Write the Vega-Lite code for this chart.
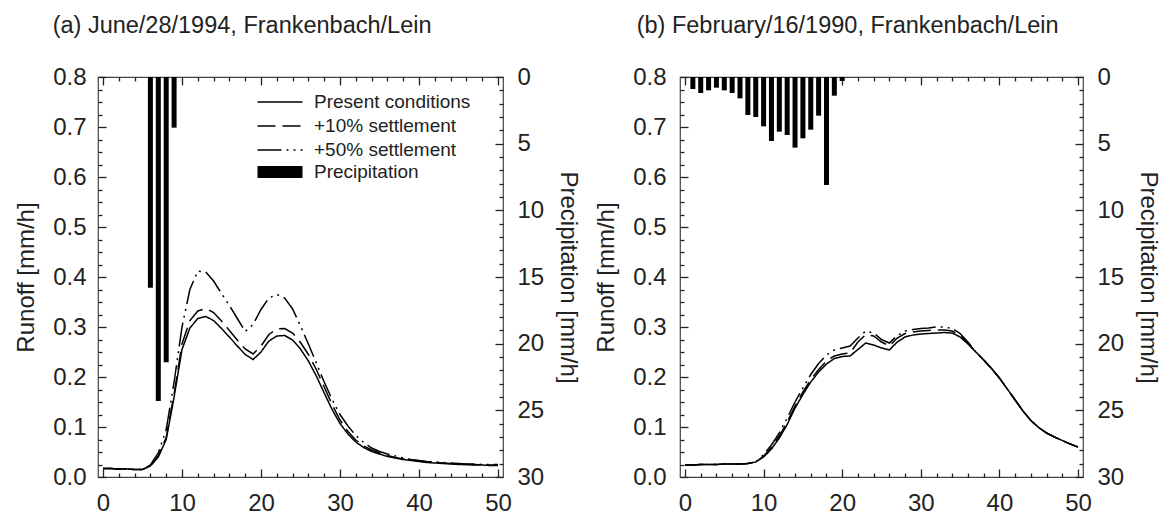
{
  "$schema": "https://vega.github.io/schema/vega-lite/v6.json",
  "background": "white",
  "padding": {"left": 14, "top": 12, "right": 4, "bottom": 5},
  "spacing": 13,
  "config": {
    "view": {"stroke": "#444", "strokeWidth": 1.2},
    "font": "Liberation Sans",
    "axis": {"labelFont": "Liberation Sans", "labelFontSize": 24, "labelColor": "#222", "titleFont": "Liberation Sans", "titleFontSize": 24, "titleFontWeight": "normal", "titleColor": "#222", "domain": false, "grid": false, "tickColor": "#222", "tickWidth": 1.3, "labelFlush": false, "labelOverlap": false},
    "legend": {"labelFont": "Liberation Sans", "labelFontSize": 19, "labelColor": "#222"},
    "title": {"font": "Liberation Sans", "fontSize": 23.5, "fontWeight": "normal", "color": "#222", "anchor": "start", "frame": "bounds"}
  },
  "resolve": {"scale": {"x": "independent", "y": "independent", "strokeDash": "independent", "color": "independent"}},
  "datasets": {
    "precipA": [{"t":6,"p":15.8},{"t":7,"p":24.3},{"t":8,"p":21.4},{"t":9,"p":3.8}],
    "precipB": [{"t":1,"p":0.9},{"t":2,"p":1.2},{"t":3,"p":1.0},{"t":4,"p":0.8},{"t":5,"p":1.0},{"t":6,"p":1.2},{"t":7,"p":1.6},{"t":8,"p":2.85},{"t":9,"p":3.0},{"t":10,"p":3.7},{"t":11,"p":4.8},{"t":12,"p":4.1},{"t":13,"p":4.35},{"t":14,"p":5.3},{"t":15,"p":4.6},{"t":16,"p":3.95},{"t":17,"p":2.9},{"t":18,"p":8.1},{"t":19,"p":1.4},{"t":20,"p":0.3}],
    "runoffA": [
      {"t":0,"s":"Present conditions","r":0.017},{"t":1,"s":"Present conditions","r":0.017},{"t":2,"s":"Present conditions","r":0.016},{"t":3,"s":"Present conditions","r":0.016},{"t":4,"s":"Present conditions","r":0.015},{"t":5,"s":"Present conditions","r":0.015},{"t":6,"s":"Present conditions","r":0.022},{"t":7,"s":"Present conditions","r":0.04},{"t":8,"s":"Present conditions","r":0.075},{"t":9,"s":"Present conditions","r":0.16},{"t":10,"s":"Present conditions","r":0.255},{"t":11,"s":"Present conditions","r":0.298},{"t":12,"s":"Present conditions","r":0.317},{"t":13,"s":"Present conditions","r":0.321},{"t":14,"s":"Present conditions","r":0.313},{"t":15,"s":"Present conditions","r":0.297},{"t":16,"s":"Present conditions","r":0.28},{"t":17,"s":"Present conditions","r":0.262},{"t":18,"s":"Present conditions","r":0.245},{"t":19,"s":"Present conditions","r":0.235},{"t":20,"s":"Present conditions","r":0.25},{"t":21,"s":"Present conditions","r":0.272},{"t":22,"s":"Present conditions","r":0.282},{"t":23,"s":"Present conditions","r":0.283},{"t":24,"s":"Present conditions","r":0.274},{"t":25,"s":"Present conditions","r":0.256},{"t":26,"s":"Present conditions","r":0.232},{"t":27,"s":"Present conditions","r":0.202},{"t":28,"s":"Present conditions","r":0.168},{"t":29,"s":"Present conditions","r":0.135},{"t":30,"s":"Present conditions","r":0.107},{"t":31,"s":"Present conditions","r":0.086},{"t":32,"s":"Present conditions","r":0.07},{"t":33,"s":"Present conditions","r":0.059},{"t":34,"s":"Present conditions","r":0.051},{"t":35,"s":"Present conditions","r":0.046},{"t":36,"s":"Present conditions","r":0.041},{"t":37,"s":"Present conditions","r":0.038},{"t":38,"s":"Present conditions","r":0.035},{"t":39,"s":"Present conditions","r":0.033},{"t":40,"s":"Present conditions","r":0.031},{"t":41,"s":"Present conditions","r":0.029},{"t":42,"s":"Present conditions","r":0.028},{"t":43,"s":"Present conditions","r":0.027},{"t":44,"s":"Present conditions","r":0.026},{"t":45,"s":"Present conditions","r":0.025},{"t":46,"s":"Present conditions","r":0.025},{"t":47,"s":"Present conditions","r":0.024},{"t":48,"s":"Present conditions","r":0.024},{"t":49,"s":"Present conditions","r":0.023},{"t":50,"s":"Present conditions","r":0.023},
      {"t":0,"s":"+10% settlement","r":0.017},{"t":1,"s":"+10% settlement","r":0.017},{"t":2,"s":"+10% settlement","r":0.016},{"t":3,"s":"+10% settlement","r":0.016},{"t":4,"s":"+10% settlement","r":0.015},{"t":5,"s":"+10% settlement","r":0.015},{"t":6,"s":"+10% settlement","r":0.022},{"t":7,"s":"+10% settlement","r":0.042},{"t":8,"s":"+10% settlement","r":0.079},{"t":9,"s":"+10% settlement","r":0.166},{"t":10,"s":"+10% settlement","r":0.266},{"t":11,"s":"+10% settlement","r":0.313},{"t":12,"s":"+10% settlement","r":0.332},{"t":13,"s":"+10% settlement","r":0.337},{"t":14,"s":"+10% settlement","r":0.329},{"t":15,"s":"+10% settlement","r":0.312},{"t":16,"s":"+10% settlement","r":0.293},{"t":17,"s":"+10% settlement","r":0.274},{"t":18,"s":"+10% settlement","r":0.256},{"t":19,"s":"+10% settlement","r":0.246},{"t":20,"s":"+10% settlement","r":0.262},{"t":21,"s":"+10% settlement","r":0.285},{"t":22,"s":"+10% settlement","r":0.296},{"t":23,"s":"+10% settlement","r":0.297},{"t":24,"s":"+10% settlement","r":0.288},{"t":25,"s":"+10% settlement","r":0.269},{"t":26,"s":"+10% settlement","r":0.245},{"t":27,"s":"+10% settlement","r":0.215},{"t":28,"s":"+10% settlement","r":0.18},{"t":29,"s":"+10% settlement","r":0.145},{"t":30,"s":"+10% settlement","r":0.114},{"t":31,"s":"+10% settlement","r":0.091},{"t":32,"s":"+10% settlement","r":0.074},{"t":33,"s":"+10% settlement","r":0.062},{"t":34,"s":"+10% settlement","r":0.054},{"t":35,"s":"+10% settlement","r":0.048},{"t":36,"s":"+10% settlement","r":0.043},{"t":37,"s":"+10% settlement","r":0.039},{"t":38,"s":"+10% settlement","r":0.036},{"t":39,"s":"+10% settlement","r":0.034},{"t":40,"s":"+10% settlement","r":0.032},{"t":41,"s":"+10% settlement","r":0.03},{"t":42,"s":"+10% settlement","r":0.029},{"t":43,"s":"+10% settlement","r":0.028},{"t":44,"s":"+10% settlement","r":0.027},{"t":45,"s":"+10% settlement","r":0.026},{"t":46,"s":"+10% settlement","r":0.025},{"t":47,"s":"+10% settlement","r":0.025},{"t":48,"s":"+10% settlement","r":0.024},{"t":49,"s":"+10% settlement","r":0.024},{"t":50,"s":"+10% settlement","r":0.024},
      {"t":0,"s":"+50% settlement","r":0.017},{"t":1,"s":"+50% settlement","r":0.017},{"t":2,"s":"+50% settlement","r":0.016},{"t":3,"s":"+50% settlement","r":0.016},{"t":4,"s":"+50% settlement","r":0.015},{"t":5,"s":"+50% settlement","r":0.015},{"t":6,"s":"+50% settlement","r":0.024},{"t":7,"s":"+50% settlement","r":0.048},{"t":8,"s":"+50% settlement","r":0.095},{"t":9,"s":"+50% settlement","r":0.19},{"t":10,"s":"+50% settlement","r":0.3},{"t":11,"s":"+50% settlement","r":0.375},{"t":12,"s":"+50% settlement","r":0.412},{"t":13,"s":"+50% settlement","r":0.41},{"t":14,"s":"+50% settlement","r":0.392},{"t":15,"s":"+50% settlement","r":0.367},{"t":16,"s":"+50% settlement","r":0.343},{"t":17,"s":"+50% settlement","r":0.317},{"t":18,"s":"+50% settlement","r":0.291},{"t":19,"s":"+50% settlement","r":0.305},{"t":20,"s":"+50% settlement","r":0.335},{"t":21,"s":"+50% settlement","r":0.358},{"t":22,"s":"+50% settlement","r":0.365},{"t":23,"s":"+50% settlement","r":0.358},{"t":24,"s":"+50% settlement","r":0.336},{"t":25,"s":"+50% settlement","r":0.302},{"t":26,"s":"+50% settlement","r":0.266},{"t":27,"s":"+50% settlement","r":0.228},{"t":28,"s":"+50% settlement","r":0.19},{"t":29,"s":"+50% settlement","r":0.155},{"t":30,"s":"+50% settlement","r":0.125},{"t":31,"s":"+50% settlement","r":0.102},{"t":32,"s":"+50% settlement","r":0.083},{"t":33,"s":"+50% settlement","r":0.069},{"t":34,"s":"+50% settlement","r":0.058},{"t":35,"s":"+50% settlement","r":0.051},{"t":36,"s":"+50% settlement","r":0.046},{"t":37,"s":"+50% settlement","r":0.042},{"t":38,"s":"+50% settlement","r":0.038},{"t":39,"s":"+50% settlement","r":0.035},{"t":40,"s":"+50% settlement","r":0.033},{"t":41,"s":"+50% settlement","r":0.031},{"t":42,"s":"+50% settlement","r":0.03},{"t":43,"s":"+50% settlement","r":0.029},{"t":44,"s":"+50% settlement","r":0.028},{"t":45,"s":"+50% settlement","r":0.027},{"t":46,"s":"+50% settlement","r":0.026},{"t":47,"s":"+50% settlement","r":0.026},{"t":48,"s":"+50% settlement","r":0.025},{"t":49,"s":"+50% settlement","r":0.025},{"t":50,"s":"+50% settlement","r":0.025}
    ],
    "runoffB": [
      {"t":0,"s":"Present conditions","r":0.024},{"t":1,"s":"Present conditions","r":0.024},{"t":2,"s":"Present conditions","r":0.025},{"t":3,"s":"Present conditions","r":0.025},{"t":4,"s":"Present conditions","r":0.025},{"t":5,"s":"Present conditions","r":0.026},{"t":6,"s":"Present conditions","r":0.026},{"t":7,"s":"Present conditions","r":0.026},{"t":8,"s":"Present conditions","r":0.027},{"t":9,"s":"Present conditions","r":0.03},{"t":10,"s":"Present conditions","r":0.04},{"t":11,"s":"Present conditions","r":0.056},{"t":12,"s":"Present conditions","r":0.078},{"t":13,"s":"Present conditions","r":0.105},{"t":14,"s":"Present conditions","r":0.138},{"t":15,"s":"Present conditions","r":0.165},{"t":16,"s":"Present conditions","r":0.19},{"t":17,"s":"Present conditions","r":0.21},{"t":18,"s":"Present conditions","r":0.226},{"t":19,"s":"Present conditions","r":0.237},{"t":20,"s":"Present conditions","r":0.241},{"t":21,"s":"Present conditions","r":0.242},{"t":22,"s":"Present conditions","r":0.255},{"t":23,"s":"Present conditions","r":0.268},{"t":24,"s":"Present conditions","r":0.264},{"t":25,"s":"Present conditions","r":0.258},{"t":26,"s":"Present conditions","r":0.254},{"t":27,"s":"Present conditions","r":0.27},{"t":28,"s":"Present conditions","r":0.28},{"t":29,"s":"Present conditions","r":0.284},{"t":30,"s":"Present conditions","r":0.286},{"t":31,"s":"Present conditions","r":0.287},{"t":32,"s":"Present conditions","r":0.288},{"t":33,"s":"Present conditions","r":0.289},{"t":34,"s":"Present conditions","r":0.288},{"t":35,"s":"Present conditions","r":0.28},{"t":36,"s":"Present conditions","r":0.266},{"t":37,"s":"Present conditions","r":0.25},{"t":38,"s":"Present conditions","r":0.234},{"t":39,"s":"Present conditions","r":0.217},{"t":40,"s":"Present conditions","r":0.198},{"t":41,"s":"Present conditions","r":0.176},{"t":42,"s":"Present conditions","r":0.154},{"t":43,"s":"Present conditions","r":0.132},{"t":44,"s":"Present conditions","r":0.113},{"t":45,"s":"Present conditions","r":0.099},{"t":46,"s":"Present conditions","r":0.088},{"t":47,"s":"Present conditions","r":0.08},{"t":48,"s":"Present conditions","r":0.073},{"t":49,"s":"Present conditions","r":0.066},{"t":50,"s":"Present conditions","r":0.06},
      {"t":0,"s":"+10% settlement","r":0.024},{"t":1,"s":"+10% settlement","r":0.024},{"t":2,"s":"+10% settlement","r":0.025},{"t":3,"s":"+10% settlement","r":0.025},{"t":4,"s":"+10% settlement","r":0.025},{"t":5,"s":"+10% settlement","r":0.026},{"t":6,"s":"+10% settlement","r":0.026},{"t":7,"s":"+10% settlement","r":0.026},{"t":8,"s":"+10% settlement","r":0.027},{"t":9,"s":"+10% settlement","r":0.03},{"t":10,"s":"+10% settlement","r":0.042},{"t":11,"s":"+10% settlement","r":0.059},{"t":12,"s":"+10% settlement","r":0.082},{"t":13,"s":"+10% settlement","r":0.11},{"t":14,"s":"+10% settlement","r":0.142},{"t":15,"s":"+10% settlement","r":0.17},{"t":16,"s":"+10% settlement","r":0.195},{"t":17,"s":"+10% settlement","r":0.215},{"t":18,"s":"+10% settlement","r":0.232},{"t":19,"s":"+10% settlement","r":0.242},{"t":20,"s":"+10% settlement","r":0.246},{"t":21,"s":"+10% settlement","r":0.248},{"t":22,"s":"+10% settlement","r":0.27},{"t":23,"s":"+10% settlement","r":0.285},{"t":24,"s":"+10% settlement","r":0.282},{"t":25,"s":"+10% settlement","r":0.27},{"t":26,"s":"+10% settlement","r":0.262},{"t":27,"s":"+10% settlement","r":0.278},{"t":28,"s":"+10% settlement","r":0.287},{"t":29,"s":"+10% settlement","r":0.29},{"t":30,"s":"+10% settlement","r":0.292},{"t":31,"s":"+10% settlement","r":0.293},{"t":32,"s":"+10% settlement","r":0.294},{"t":33,"s":"+10% settlement","r":0.294},{"t":34,"s":"+10% settlement","r":0.292},{"t":35,"s":"+10% settlement","r":0.283},{"t":36,"s":"+10% settlement","r":0.268},{"t":37,"s":"+10% settlement","r":0.25},{"t":38,"s":"+10% settlement","r":0.234},{"t":39,"s":"+10% settlement","r":0.217},{"t":40,"s":"+10% settlement","r":0.198},{"t":41,"s":"+10% settlement","r":0.176},{"t":42,"s":"+10% settlement","r":0.154},{"t":43,"s":"+10% settlement","r":0.132},{"t":44,"s":"+10% settlement","r":0.113},{"t":45,"s":"+10% settlement","r":0.099},{"t":46,"s":"+10% settlement","r":0.088},{"t":47,"s":"+10% settlement","r":0.08},{"t":48,"s":"+10% settlement","r":0.073},{"t":49,"s":"+10% settlement","r":0.066},{"t":50,"s":"+10% settlement","r":0.06},
      {"t":0,"s":"+50% settlement","r":0.024},{"t":1,"s":"+50% settlement","r":0.024},{"t":2,"s":"+50% settlement","r":0.025},{"t":3,"s":"+50% settlement","r":0.025},{"t":4,"s":"+50% settlement","r":0.025},{"t":5,"s":"+50% settlement","r":0.026},{"t":6,"s":"+50% settlement","r":0.026},{"t":7,"s":"+50% settlement","r":0.026},{"t":8,"s":"+50% settlement","r":0.027},{"t":9,"s":"+50% settlement","r":0.03},{"t":10,"s":"+50% settlement","r":0.045},{"t":11,"s":"+50% settlement","r":0.064},{"t":12,"s":"+50% settlement","r":0.088},{"t":13,"s":"+50% settlement","r":0.118},{"t":14,"s":"+50% settlement","r":0.15},{"t":15,"s":"+50% settlement","r":0.178},{"t":16,"s":"+50% settlement","r":0.205},{"t":17,"s":"+50% settlement","r":0.227},{"t":18,"s":"+50% settlement","r":0.244},{"t":19,"s":"+50% settlement","r":0.254},{"t":20,"s":"+50% settlement","r":0.258},{"t":21,"s":"+50% settlement","r":0.262},{"t":22,"s":"+50% settlement","r":0.278},{"t":23,"s":"+50% settlement","r":0.292},{"t":24,"s":"+50% settlement","r":0.288},{"t":25,"s":"+50% settlement","r":0.275},{"t":26,"s":"+50% settlement","r":0.268},{"t":27,"s":"+50% settlement","r":0.283},{"t":28,"s":"+50% settlement","r":0.292},{"t":29,"s":"+50% settlement","r":0.295},{"t":30,"s":"+50% settlement","r":0.297},{"t":31,"s":"+50% settlement","r":0.298},{"t":32,"s":"+50% settlement","r":0.3},{"t":33,"s":"+50% settlement","r":0.3},{"t":34,"s":"+50% settlement","r":0.297},{"t":35,"s":"+50% settlement","r":0.287},{"t":36,"s":"+50% settlement","r":0.27},{"t":37,"s":"+50% settlement","r":0.25},{"t":38,"s":"+50% settlement","r":0.234},{"t":39,"s":"+50% settlement","r":0.217},{"t":40,"s":"+50% settlement","r":0.198},{"t":41,"s":"+50% settlement","r":0.176},{"t":42,"s":"+50% settlement","r":0.154},{"t":43,"s":"+50% settlement","r":0.132},{"t":44,"s":"+50% settlement","r":0.113},{"t":45,"s":"+50% settlement","r":0.099},{"t":46,"s":"+50% settlement","r":0.088},{"t":47,"s":"+50% settlement","r":0.08},{"t":48,"s":"+50% settlement","r":0.073},{"t":49,"s":"+50% settlement","r":0.066},{"t":50,"s":"+50% settlement","r":0.06}
    ]
  },
  "hconcat": [
    {
      "title": {"text": "(a) June/28/1994, Frankenbach/Lein", "dx": 38, "offset": 28},
      "width": 405,
      "height": 400,
      "resolve": {"scale": {"y": "independent"}, "axis": {"x": "independent"}},
      "layer": [
        {
          "data": {"name": "precipA"},
          "mark": {"type": "bar", "size": 5},
          "encoding": {
            "x": {"field": "t", "type": "quantitative", "scale": {"domain": [0, 50], "nice": false},
              "axis": {"orient": "top", "labels": false, "title": null, "values": [0,2,4,6,8,10,12,14,16,18,20,22,24,26,28,30,32,34,36,38,40,42,44,46,48,50],
                "tickSize": {"condition": {"test": "datum.value % 10 === 0", "value": -8}, "value": -4}}},
            "y": {"field": "p", "type": "quantitative", "scale": {"domain": [0, 30], "reverse": true, "nice": false},
              "axis": {"orient": "right", "title": "Precipitation [mm/h]", "titlePadding": 12, "labelPadding": 22,
                "values": [0,1,2,3,4,5,6,7,8,9,10,11,12,13,14,15,16,17,18,19,20,21,22,23,24,25,26,27,28,29,30],
                "labelExpr": "datum.value % 5 === 0 ? datum.label : ''",
                "tickSize": {"condition": {"test": "datum.value % 5 === 0", "value": -8}, "value": -4}}},
            "color": {"datum": "Precipitation", "type": "nominal", "scale": {"range": ["black"]},
              "legend": {"orient": "none", "legendX": 172, "legendY": 85, "title": null, "symbolType": "M-2.5,-0.67H2.5V0.67H-2.5Z", "symbolSize": 324, "labelOffset": 24}}
          }
        },
        {
          "data": {"name": "runoffA"},
          "mark": {"type": "line", "color": "black", "strokeWidth": 1.5},
          "encoding": {
            "x": {"field": "t", "type": "quantitative", "scale": {"domain": [0, 50], "nice": false},
              "axis": {"orient": "bottom", "title": null, "labelPadding": 22, "values": [0,2,4,6,8,10,12,14,16,18,20,22,24,26,28,30,32,34,36,38,40,42,44,46,48,50],
                "labelExpr": "datum.value % 10 === 0 ? datum.label : ''",
                "tickSize": {"condition": {"test": "datum.value % 10 === 0", "value": -8}, "value": -4}}},
            "y": {"field": "r", "type": "quantitative", "scale": {"domain": [0, 0.8], "nice": false},
              "axis": {"orient": "left", "title": "Runoff [mm/h]", "titlePadding": 14, "labelPadding": 20,
                "values": [0,0.025,0.05,0.075,0.1,0.125,0.15,0.175,0.2,0.225,0.25,0.275,0.3,0.325,0.35,0.375,0.4,0.425,0.45,0.475,0.5,0.525,0.55,0.575,0.6,0.625,0.65,0.675,0.7,0.725,0.75,0.775,0.8],
                "labelExpr": "abs(datum.value*10 - round(datum.value*10)) < 0.001 ? format(datum.value, '.1f') : ''",
                "tickSize": {"condition": {"test": "abs(datum.value*10 - round(datum.value*10)) < 0.001", "value": -8}, "value": -4}}},
            "strokeDash": {"field": "s", "type": "nominal",
              "scale": {"domain": ["Present conditions", "+10% settlement", "+50% settlement"], "range": [[1, 0], [18, 7], [24, 5, 2, 5, 2, 5]]},
              "legend": {"orient": "none", "legendX": 172, "legendY": 15, "title": null, "symbolType": "M-2.5,0H2.5", "symbolSize": 324, "symbolStrokeWidth": 1.5, "symbolStrokeColor": "black", "labelOffset": 24, "rowPadding": 4}}
          }
        }
      ]
    },
    {
      "title": {"text": "(b) February/16/1990, Frankenbach/Lein", "dx": 42, "offset": 28},
      "width": 403,
      "height": 400,
      "resolve": {"scale": {"y": "independent"}, "axis": {"x": "independent"}},
      "layer": [
        {
          "data": {"name": "precipB"},
          "mark": {"type": "bar", "size": 5},
          "encoding": {
            "x": {"field": "t", "type": "quantitative", "scale": {"domain": [0, 50], "nice": false},
              "axis": {"orient": "top", "labels": false, "title": null, "values": [0,2,4,6,8,10,12,14,16,18,20,22,24,26,28,30,32,34,36,38,40,42,44,46,48,50],
                "tickSize": {"condition": {"test": "datum.value % 10 === 0", "value": -8}, "value": -4}}},
            "y": {"field": "p", "type": "quantitative", "scale": {"domain": [0, 30], "reverse": true, "nice": false},
              "axis": {"orient": "right", "title": "Precipitation [mm/h]", "titlePadding": 12, "labelPadding": 22,
                "values": [0,1,2,3,4,5,6,7,8,9,10,11,12,13,14,15,16,17,18,19,20,21,22,23,24,25,26,27,28,29,30],
                "labelExpr": "datum.value % 5 === 0 ? datum.label : ''",
                "tickSize": {"condition": {"test": "datum.value % 5 === 0", "value": -8}, "value": -4}}},
            "color": {"datum": "Precipitation", "type": "nominal", "scale": {"range": ["black"]}, "legend": null}
          }
        },
        {
          "data": {"name": "runoffB"},
          "mark": {"type": "line", "color": "black", "strokeWidth": 1.5},
          "encoding": {
            "x": {"field": "t", "type": "quantitative", "scale": {"domain": [0, 50], "nice": false},
              "axis": {"orient": "bottom", "title": null, "labelPadding": 22, "values": [0,2,4,6,8,10,12,14,16,18,20,22,24,26,28,30,32,34,36,38,40,42,44,46,48,50],
                "labelExpr": "datum.value % 10 === 0 ? datum.label : ''",
                "tickSize": {"condition": {"test": "datum.value % 10 === 0", "value": -8}, "value": -4}}},
            "y": {"field": "r", "type": "quantitative", "scale": {"domain": [0, 0.8], "nice": false},
              "axis": {"orient": "left", "title": "Runoff [mm/h]", "titlePadding": 14, "labelPadding": 22,
                "values": [0,0.025,0.05,0.075,0.1,0.125,0.15,0.175,0.2,0.225,0.25,0.275,0.3,0.325,0.35,0.375,0.4,0.425,0.45,0.475,0.5,0.525,0.55,0.575,0.6,0.625,0.65,0.675,0.7,0.725,0.75,0.775,0.8],
                "labelExpr": "abs(datum.value*10 - round(datum.value*10)) < 0.001 ? format(datum.value, '.1f') : ''",
                "tickSize": {"condition": {"test": "abs(datum.value*10 - round(datum.value*10)) < 0.001", "value": -8}, "value": -4}}},
            "strokeDash": {"field": "s", "type": "nominal",
              "scale": {"domain": ["Present conditions", "+10% settlement", "+50% settlement"], "range": [[1, 0], [18, 7], [24, 5, 2, 5, 2, 5]]},
              "legend": null}
          }
        }
      ]
    }
  ]
}
